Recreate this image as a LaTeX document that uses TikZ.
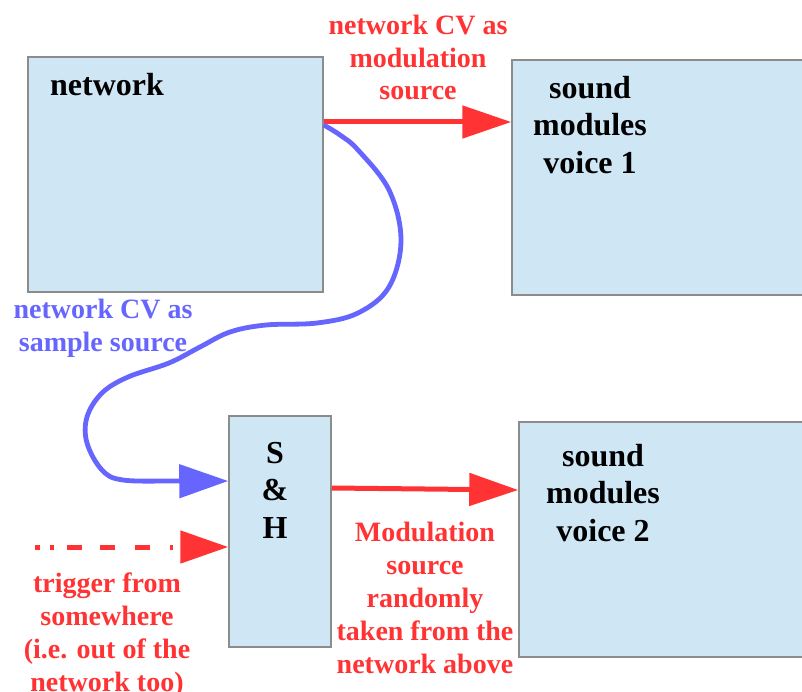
\documentclass[tikz,border=0pt]{standalone}
\usepackage{fontspec}
\setmainfont{Liberation Serif}
\usetikzlibrary{arrows.meta}
\definecolor{boxfill}{RGB}{207,231,245}
\definecolor{boxline}{RGB}{140,140,140}
\definecolor{myred}{RGB}{255,51,51}
\definecolor{myblue}{RGB}{102,102,255}
\begin{document}
\begin{tikzpicture}[x=1pt,y=-1pt,
  box/.style={draw=boxline, line width=1.5pt, fill=boxfill, rectangle, inner sep=0pt},
  blk/.style={font=\fontsize{32}{37.5}\selectfont\bfseries, align=center, text=black, inner sep=0pt},
  lab/.style={font=\fontsize{28}{32.8}\selectfont\bfseries, align=center, inner sep=0pt},
  redarrow/.style={draw=myred, line width=5pt, -{Triangle[length=49pt,width=32pt]}},
  bluearrow/.style={draw=myblue, line width=4.8pt, -{Triangle[length=49pt,width=33pt]}},
  dasharrow/.style={draw=myred, line width=5pt, -{Triangle[length=48pt,width=32pt]},
    dash pattern=on 5pt off 10pt on 4pt off 13pt on 15pt off 18pt on 15pt off 20pt on 15pt off 20pt on 3pt off 30pt},
]
\useasboundingbox (0,0) rectangle (802,692);
\clip (0,0) rectangle (802,692);

% boxes
\node[box, minimum width=295pt, minimum height=235pt] (net) at (175.5,174.5) {};
\node[box, minimum width=298pt, minimum height=235pt] (v1) at (661,177.5) {};
\node[box, minimum width=102pt, minimum height=231pt] (sh) at (280,531.5) {};
\node[box, minimum width=291pt, minimum height=235pt] (v2) at (664.5,539.5) {};

% texts
\node[blk, anchor=west] (nettext) at (50,85) {network};
\node[blk] (v1text) at (590,125) {sound\\modules\\voice 1};
\node[blk] (shtext) at (275,490) {S\\\&\\H};
\node[blk] (v2text) at (603,493) {sound\\modules\\voice 2};

\node[lab, text=myred] (lab1) at (418,57.5) {network CV as\\modulation\\source};
\node[lab, text=myblue] (lab2) at (103,328) {network CV as\\sample source};
\node[lab, text=myred] (lab3) at (425,598) {Modulation\\source\\randomly\\taken from the\\network above};
\node[lab, text=myred] (lab4) at (107,635) {trigger from\\somewhere\\(i.e. out of the\\network too)};

% connector end points
\coordinate (ya) at (0,122);
\coordinate (yb) at (0,125);
\coordinate (yc) at (0,481);
\coordinate (yd) at (0,488);
\coordinate (ye) at (0,490);
\coordinate (yf) at (0,547);
\coordinate (trigstart) at (35,547);

% connectors
\draw[redarrow] (net.east |- ya) -- (v1.west |- ya);
\draw[redarrow] (sh.east |- yd) -- (v2.west |- ye);
\draw[dasharrow] (trigstart) -- (sh.west |- yf);
\draw[bluearrow] plot[smooth, tension=0.6] coordinates {
  (net.east |- yb) (340,135) (358,150) (389,190) (401,240) (389,287) (358,313)
  (317,323) (266,325) (230,332) (200,347) (169,363) (128,377) (102,393)
  (87,417) (87,443) (102,470) (123,480) (176,481) (sh.west |- yc)};
\end{tikzpicture}
\end{document}
